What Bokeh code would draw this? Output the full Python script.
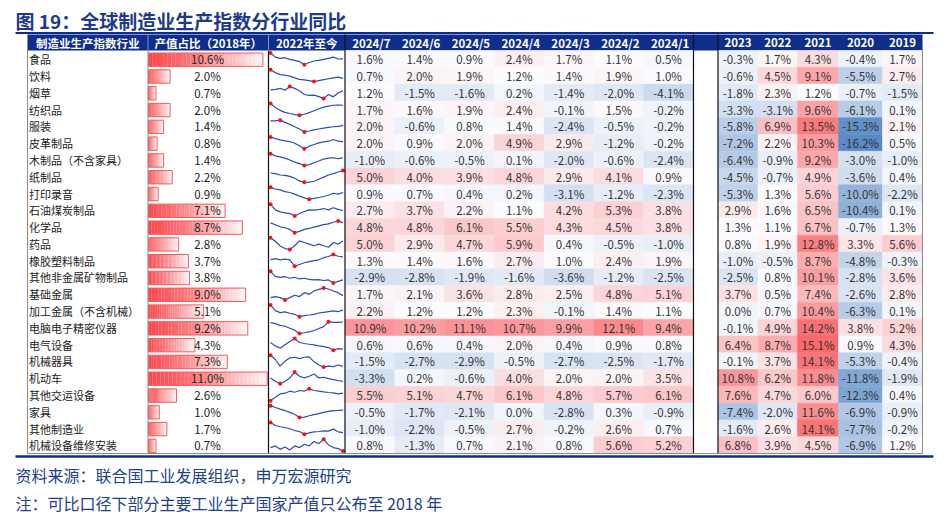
import numpy as np
from bokeh.plotting import figure
from bokeh.models import Range1d, ColumnDataSource
from bokeh.core.properties import value
from bokeh.embed import file_html
from bokeh.resources import INLINE

# ---------------- data ----------------
industries = ["食品", "饮料", "烟草", "纺织品", "服装", "皮革制品", "木制品（不含家具）", "纸制品",
              "打印录音", "石油煤炭制品", "化学品", "药品", "橡胶塑料制品", "其他非金属矿物制品",
              "基础金属", "加工金属（不含机械）", "电脑电子精密仪器", "电气设备", "机械器具", "机动车",
              "其他交运设备", "家具", "其他制造业", "机械设备维修安装"]
share_2018 = [10.6, 2.0, 0.7, 2.0, 1.4, 0.8, 1.4, 2.2, 0.9, 7.1, 8.7, 2.8, 3.7, 3.8,
              9.0, 5.1, 9.2, 4.3, 7.3, 11.0, 2.6, 1.0, 1.7, 0.7]

month_labels = ["2024/7", "2024/6", "2024/5", "2024/4", "2024/3", "2024/2", "2024/1"]
m2024_7 = [1.6, 0.7, 1.2, 1.7, 2.0, 2.0, -1.0, 5.0, 0.9, 2.7, 4.8, 5.0, 1.3, -2.9, 1.7, 2.2, 10.9, 0.6, -1.5, -3.3, 5.5, -0.5, -1.0, 0.8]
m2024_6 = [1.4, 2.0, -1.5, 1.6, -0.6, 0.9, -0.6, 4.0, 0.7, 3.7, 4.8, 2.9, 1.4, -2.8, 2.1, 1.2, 10.2, 0.6, -2.7, 0.2, 5.1, -1.7, -2.2, -1.3]
m2024_5 = [0.9, 1.9, -1.6, 1.9, 0.8, 2.0, -0.5, 3.9, 0.4, 2.2, 6.1, 4.7, 1.6, -1.9, 3.6, 1.2, 11.1, 0.4, -2.9, -0.6, 4.7, -2.1, -0.5, 0.7]
m2024_4 = [2.4, 1.2, 0.2, 2.4, 1.4, 4.9, 0.1, 4.8, 0.2, 1.1, 5.5, 5.9, 2.7, -1.6, 2.8, 2.3, 10.7, 2.0, -0.5, 4.0, 6.1, 0.0, 2.7, 2.1]
m2024_3 = [1.7, 1.4, -1.4, -0.1, -2.4, 2.9, -2.0, 2.9, -3.1, 4.2, 4.3, 0.4, 1.0, -3.6, 2.5, -0.1, 9.9, 0.4, -2.7, 2.0, 4.8, -2.8, -0.2, 0.8]
m2024_2 = [1.1, 1.9, -2.0, 1.5, -0.5, -1.2, -0.6, 4.1, -1.2, 5.3, 4.5, -0.5, 2.4, -1.2, 4.8, 1.4, 12.1, 0.9, -2.5, 2.0, 5.7, 0.3, 2.6, 5.6]
m2024_1 = [0.5, 1.0, -4.1, -0.2, -0.2, -0.2, -2.4, 0.9, -2.3, 3.8, 3.8, -1.0, 1.9, -2.5, 5.1, 1.1, 9.4, 0.8, -1.7, 3.5, 6.1, -0.9, 0.7, 5.2]

year_labels = ["2023", "2022", "2021", "2020", "2019"]
y2023 = [-0.3, -0.6, -1.8, -3.3, -5.8, -7.2, -6.4, -4.5, -5.3, 2.9, 1.3, 0.8, -1.0, -2.5, 3.7, 0.0, -0.1, 6.4, -0.1, 10.8, 7.6, -7.4, -1.6, 6.8]
y2022 = [1.7, 4.5, 2.3, -3.1, 6.9, 2.2, -0.9, -0.7, 1.3, 1.6, 1.1, 1.9, -0.5, 0.8, 0.5, 0.7, 4.9, 8.7, 3.7, 6.2, 4.7, -2.0, 2.6, 3.9]
y2021 = [4.3, 9.1, 1.2, 9.6, 13.5, 10.3, 9.2, 4.9, 5.6, 6.5, 6.7, 12.8, 8.7, 10.1, 7.4, 10.4, 14.2, 15.1, 14.1, 11.8, 6.0, 11.6, 14.1, 4.5]
y2020 = [-0.4, -5.5, -0.7, -6.1, -15.3, -16.2, -3.0, -3.6, -10.0, -10.4, -0.7, 3.3, -4.8, -2.8, -2.6, -6.3, 3.8, 0.9, -5.3, -11.8, -12.3, -6.9, -7.7, -6.9]
y2019 = [1.7, 2.7, -1.5, 0.1, 2.1, 0.5, -1.0, 0.4, -2.2, 0.1, 1.3, 5.6, -0.3, 3.6, 2.8, 0.1, 5.2, 4.3, -0.4, -1.9, 0.4, -0.9, -0.2, 1.2]

# sparkline shapes since 2022 (relative level within each row, read by eye)
spark_since_2022 = [
    [10, 6.5, 5.4, 6, 4.6, 3.8, 2.7, 0, 1.9, 3.2, 3.8, 4.6, 5.4, 6.5, 4.9, 5.1],
    [10, 7.6, 5.9, 5.4, 4.6, 3.2, 1.9, 1.4, 0.8, 0, 0.8, 1.6, 2.4, 3.2, 3.8, 2.7],
    [7.2, 7.7, 8.5, 6.9, 10, 8.5, 6.4, 3.3, 2.6, 2.8, 1.5, 0, 3.3, 1.3, 4.6, 6.4],
    [10, 6.5, 4.1, 2.4, 1.4, 0.5, 0, 0.8, 2.2, 3.8, 5.4, 6.8, 7.6, 8.4, 8.6, 8.4],
    [9.4, 9.4, 10, 8.1, 6.4, 4.4, 2.5, 0, 0.8, 1.7, 2.5, 3.3, 3.9, 4.4, 4.7, 5.6],
    [10, 8.6, 7.5, 6.7, 6.1, 4.7, 2.5, 0, 2.2, 3.6, 5, 5.8, 6.4, 7.8, 6.4, 6.1],
    [10, 8.2, 7.4, 6.3, 4.7, 2.9, 1.6, 0, 0.8, 2.4, 3.9, 5.5, 6.3, 6.6, 5.8, 6.6],
    [7.9, 7.4, 6.2, 5.9, 5.0, 3.5, 1.2, 0, 0.2, 0.9, 2.6, 4.4, 6.2, 7.4, 8.8, 10],
    [10, 8.6, 7.8, 6.4, 5.6, 4.2, 2.5, 1.1, 0, 0.6, 1.4, 2.2, 3.3, 5, 4.2, 5.6],
    [10, 5.1, 3.4, 2.6, 2.0, 0, 2.0, 3.7, 5.1, 4.9, 5.4, 6.3, 5.1, 6.9, 5.5, 4.6],
    [8.3, 6.7, 5, 4.2, 2.8, 0, 1.1, 2.8, 3.6, 4.7, 5.8, 6.9, 7.5, 8.9, 10, 8.3],
    [10, 7, 3, 0.8, 0, 3.2, 7.3, 5.9, 4.6, 3.2, 4.6, 3.2, 1.9, 5.9, 4.6, 7.3],
    [5.5, 6.5, 5.5, 6, 5.5, 0, 1.5, 3, 4, 4.8, 5.5, 7.3, 8.3, 10, 8.5, 8],
    [10, 5.7, 4.9, 5.4, 4.1, 4.9, 3.5, 4.1, 3.2, 2.7, 3, 2.2, 2.7, 0, 1.4, 2.7],
    [1.9, 2.8, 1.9, 0, 1.9, 3.9, 2.8, 6.1, 4.7, 7.5, 8.9, 10, 9.2, 7.5, 6.1, 3.6],
    [10, 5.1, 3.4, 4, 2.9, 2, 0, 0.9, 1.4, 2, 3.1, 3.7, 4.3, 4.9, 4.3, 5.7],
    [9.2, 8.3, 6.9, 6.1, 4.4, 2.8, 0, 0.6, 1.4, 2.5, 4.2, 5.8, 10, 9.4, 9.4, 9.7],
    [6.6, 3.7, 1.7, 4.6, 7.4, 10, 6.6, 5.7, 5.1, 4.6, 3.7, 3.1, 2.3, 0, 1.4, 0.9],
    [10, 6.4, 0.8, 5, 7.8, 8.3, 7.2, 8.3, 8.6, 4.4, 1.7, 0, 0.8, 0.3, 1.7, 0.6],
    [5, 2.2, 0, 2.2, 5, 10, 6.4, 5, 6.4, 8.3, 5, 5.6, 4.4, 3.6, 2.8, 2.2],
    [0, 2.9, 5.7, 6.3, 8, 7.1, 8.6, 8, 10, 8.6, 8, 7.4, 6.9, 6.6, 5.7, 6.3],
    [10, 8.4, 7, 5.7, 4.3, 2.7, 0, 0.3, 1.4, 2.4, 3.2, 4.3, 5.1, 5.7, 5.9, 6.2],
    [10, 7.4, 6.3, 5.7, 4.6, 3.1, 2.3, 0, 1.1, 2, 2.3, 2.9, 2.6, 4.3, 2, 1.4],
    [2.9, 4.3, 1.4, 3.4, 0.9, 4.3, 2.9, 5.7, 4.3, 8, 6.3, 10, 5.1, 2.9, 2, 0],
]

title = "图 19：全球制造业生产指数分行业同比"
head_labels = ["制造业生产指数行业", "产值占比（2018年）", "2022年至今"]
source_note = "资料来源：联合国工业发展组织，申万宏源研究"
extra_note = "注：可比口径下部分主要工业生产国家产值只公布至 2018 年"

# ---------------- layout / style ----------------
FONT = "Noto Sans CJK SC"
NAVY = "#0F2D8A"
TITLE_C = "#1B3A8C"
X_LEFT, X_C1, X_C2, X_C3 = 27, 147.5, 268, 344.5
M_EDGES = list(np.linspace(344.5, 693, 8))
GAP_R = 717.5
Y_EDGES = [717.5, 757.5, 797, 838, 882, 922]
HEAD_T, HEAD_B, TAB_B = 34, 50, 453
n = len(industries)
RH = (TAB_B - HEAD_B) / n
row_top = np.array([HEAD_B + i * RH for i in range(n)])
row_mid = row_top + RH / 2

W, H = 940, 512
p = figure(width=W, height=H, x_range=Range1d(0, W), y_range=Range1d(H, 0),
           output_backend="svg", toolbar_location=None, min_border=0,
           x_axis_location=None, y_axis_location=None)
p.grid.visible = False
p.outline_line_color = None

def txt(x, y, t, size, color="#333333", align="center", bold=False):
    p.text(x=x, y=y, text=t, text_font=value(FONT), text_font_size=size,
           text_color=color, text_align=align, text_baseline="middle",
           text_font_style="bold" if bold else "normal")

# title
txt([15], [19.5], [title], "19px", TITLE_C, "left", True)
p.segment(x0=[15], y0=[32.5], x1=[933], y1=[32.5], line_color=NAVY, line_width=2)

# header
p.quad(left=[X_LEFT], right=[Y_EDGES[-1]], top=[HEAD_T], bottom=[HEAD_B],
       fill_color=NAVY, line_color=None)
hx = [(X_LEFT + X_C1) / 2, (X_C1 + X_C2) / 2, (X_C2 + X_C3) / 2]
hx += [(M_EDGES[j] + M_EDGES[j + 1]) / 2 + 1.5 for j in range(7)]
hx += [(Y_EDGES[j] + Y_EDGES[j + 1]) / 2 for j in range(5)]
hl = head_labels + month_labels + year_labels
txt(hx, [42] * len(hx), hl, "11.5px", "white", "center", True)

# heatmap colors
all_vals = np.array(m2024_7 + m2024_6 + m2024_5 + m2024_4 + m2024_3 + m2024_2 + m2024_1
                    + y2023 + y2022 + y2021 + y2020 + y2019)
vmin, vmax, vmid = all_vals.min(), all_vals.max(), np.percentile(all_vals, 50)
C_LO, C_MID, C_HI = np.array([90, 138, 198]), np.array([252, 252, 255]), np.array([248, 105, 107])

def hcolor(v):
    if v >= vmid:
        t = (v - vmid) / (vmax - vmid)
        c = C_MID + (C_HI - C_MID) * t
    else:
        t = (vmid - v) / (vmid - vmin)
        c = C_MID + (C_LO - C_MID) * t
    return "#%02x%02x%02x" % tuple(int(round(k)) for k in c)

def heat_block(cols, edges):
    L, R, T, B, F, X, Y, S = [], [], [], [], [], [], [], []
    for j, col in enumerate(cols):
        for i, v in enumerate(col):
            L.append(edges[j]); R.append(edges[j + 1])
            T.append(row_top[i]); B.append(row_top[i] + RH)
            F.append(hcolor(v))
            X.append((edges[j] + edges[j + 1]) / 2); Y.append(row_mid[i] + 0.3)
            S.append("%.1f%%" % v)
    src = ColumnDataSource(dict(l=L, r=R, t=T, b=B, f=F))
    p.quad(left="l", right="r", top="t", bottom="b", fill_color="f", line_color="f",
           line_width=0.5, source=src)
    txt(X, Y, S, "11.5px", "#333333")

heat_block([m2024_7, m2024_6, m2024_5, m2024_4, m2024_3, m2024_2, m2024_1], M_EDGES)
heat_block([y2023, y2022, y2021, y2020, y2019], Y_EDGES)

# row labels
txt([X_LEFT + 1.5] * n, list(row_mid + 0.3), industries, "11px", "#222222", "left")

# gradient bars
PX_PER = (266.7 - 148) / 11.0
NSEG = 30
c0, c1 = np.array([252, 72, 76]), np.array([255, 248, 248])
L, R, T, B, F = [], [], [], [], []
for i, s in enumerate(share_2018):
    w = s * PX_PER
    for k in range(NSEG):
        L.append(148 + w * k / NSEG); R.append(148 + w * (k + 1) / NSEG + 0.05)
        T.append(row_top[i] + 2.5); B.append(row_top[i] + RH - 0.9)
        t = ((k + 0.5) / NSEG) ** 1.3
        c = c0 + (c1 - c0) * t
        F.append("#%02x%02x%02x" % tuple(int(round(x)) for x in c))
p.quad(left=L, right=R, top=T, bottom=B, fill_color=F, line_color=None)
p.quad(left=[148] * n, right=[148 + s * PX_PER for s in share_2018],
       top=list(row_top + 2.5), bottom=list(row_top + RH - 0.9),
       fill_color=None, line_color="#F55A5F", line_width=1)
txt([207] * n, list(row_mid + 0.3), ["%.1f%%" % s for s in share_2018], "11.5px", "#222222")

# sparklines
xs, ys, mx, my = [], [], [], []
for i, sv in enumerate(spark_since_2022):
    sv = np.array(sv, dtype=float)
    m = len(sv)
    xx = 270 + np.arange(m) / (m - 1) * 72.5
    yy = row_top[i] + RH - 2.5 - (sv - sv.min()) / (sv.max() - sv.min()) * (RH - 5)
    xs.append(list(xx)); ys.append(list(yy))
    for idx in (int(np.argmax(sv)), int(np.argmin(sv))):
        mx.append(xx[idx]); my.append(yy[idx])
p.multi_line(xs=xs, ys=ys, line_color="#2B50A8", line_width=1.2)
p.scatter(x=mx, y=my, size=4, fill_color="#FF1010", line_color=None)

# borders
gray = "#8C8C8C"
p.segment(x0=[X_LEFT, X_C1, Y_EDGES[-1]], y0=[HEAD_T, HEAD_B, HEAD_T],
          x1=[X_LEFT, X_C1, Y_EDGES[-1]], y1=[TAB_B, TAB_B, TAB_B], line_color=gray, line_width=1)
p.segment(x0=[X_C2, X_C3, 693, GAP_R], y0=[HEAD_B, HEAD_T, HEAD_T, HEAD_T],
          x1=[X_C2, X_C3, 693, GAP_R], y1=[TAB_B] * 4, line_color="#111111", line_width=1.2)
p.segment(x0=[X_C1, X_C2], y0=[HEAD_T, HEAD_T], x1=[X_C1, X_C2], y1=[HEAD_B, HEAD_B],
          line_color="#7F90C8", line_width=1)
p.segment(x0=[X_LEFT], y0=[TAB_B], x1=[Y_EDGES[-1]], y1=[TAB_B], line_color=gray, line_width=1)
p.segment(x0=[15], y0=[456], x1=[933], y1=[456], line_color=NAVY, line_width=2.5)

# notes
txt([15], [474], [source_note], "16px", "#22408E", "left")
txt([15], [502], [extra_note], "16px", "#22408E", "left")

open("out.html", "w").write(file_html(p, INLINE))
